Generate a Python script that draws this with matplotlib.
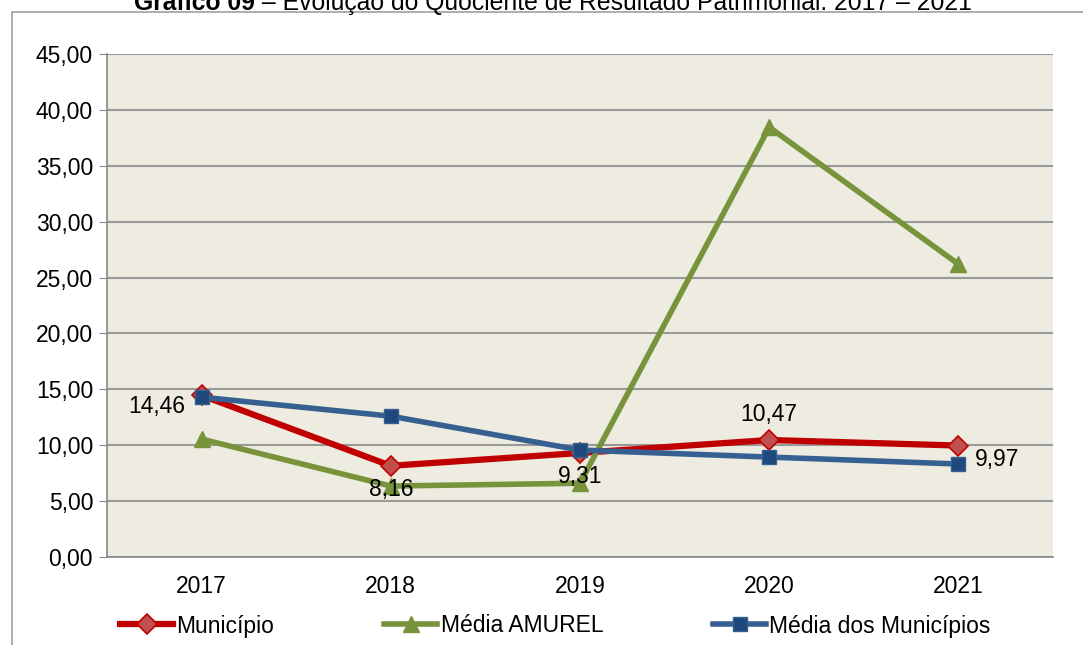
import matplotlib.pyplot as plt
from matplotlib.patches import Rectangle

anos = ['2017', '2018', '2019', '2020', '2021']
municipio = [14.46, 8.16, 9.31, 10.47, 9.97]
amurel = [10.55, 6.35, 6.6, 38.45, 26.2]
media_municipios = [14.3, 12.6, 9.57, 8.94, 8.32]

plt.rcParams['font.family'] = ['Liberation Sans', 'DejaVu Sans']
FS = 16.5

fig = plt.figure(figsize=(10.83, 6.45), dpi=100)
ax = fig.add_axes([0.0988, 0.1364, 0.8735, 0.7799])

# moldura do gráfico (cortada à direita)
fig.patches.append(Rectangle((12 / 1083, -0.1), 1.2, 1 - 12 / 645 + 0.1,
                             transform=fig.transFigure, fill=False,
                             edgecolor='#a0a0a0', linewidth=1.2))

# título cortado no topo: parte em negrito + resto
y_tit = 1 - 3 / 645
t1 = fig.text(0, y_tit, 'Gráfico 09', weight='bold', ha='left', va='center', fontsize=17.8)
t2 = fig.text(0, y_tit, ' – Evolução do Quociente de Resultado Patrimonial: 2017 – 2021',
              ha='left', va='center', fontsize=17.8)
fig.canvas.draw()
r = fig.canvas.get_renderer()
w1 = t1.get_window_extent(r).width / fig.bbox.width
w2 = t2.get_window_extent(r).width / fig.bbox.width
x0 = 553 / 1083 - (w1 + w2) / 2
t1.set_x(x0)
t2.set_x(x0 + w1)

ax.set_facecolor('#eeebe0')
x = range(len(anos))

ax.plot(x, municipio, color='#c00000', linewidth=4.5, marker='D', markersize=10,
        markerfacecolor='#c0504d', markeredgecolor='#c00000', markeredgewidth=1.2,
        label='Município', zorder=3)
ax.plot(x, amurel, color='#77933c', linewidth=4, marker='^', markersize=11,
        markerfacecolor='#77933c', markeredgecolor='#77933c',
        label='Média AMUREL', zorder=3)
ax.plot(x, media_municipios, color='#376092', linewidth=4, marker='s', markersize=10,
        markerfacecolor='#1f497d', markeredgecolor='#376092',
        label='Média dos Municípios', zorder=4)

# rótulos de dados do município
rotulos = [(-12, -8, 'right', 'center'), (0, -9, 'center', 'top'),
           (0, -9, 'center', 'top'), (0, 10, 'center', 'bottom'),
           (12, -10, 'left', 'center')]
for i, (dx, dy, ha, va) in enumerate(rotulos):
    ax.annotate(f'{municipio[i]:.2f}'.replace('.', ','), (i, municipio[i]),
                xytext=(dx, dy), textcoords='offset points', ha=ha, va=va,
                fontsize=FS, zorder=5)

ax.set_xlim(-0.5, 4.5)
ax.set_ylim(0, 45)
ax.set_yticks(range(0, 46, 5))
ax.set_yticklabels([f'{v:.2f}'.replace('.', ',') for v in range(0, 46, 5)], fontsize=FS)
ax.set_xticks(list(x))
ax.set_xticklabels(anos, fontsize=FS)
ax.tick_params(axis='x', length=0, pad=13)
ax.tick_params(axis='y', length=6, color='#888888', pad=4)
ax.grid(axis='y', color='#999999', linewidth=1.5, zorder=1)
ax.set_axisbelow(True)
for s in ['top', 'right']:
    ax.spines[s].set_visible(False)
for s in ['left', 'bottom']:
    ax.spines[s].set_color('#888888')
    ax.spines[s].set_linewidth(1.2)

fig.legend(loc='center', bbox_to_anchor=(0.513, 1 - 626 / 645), ncol=3,
           frameon=False, fontsize=FS, handlelength=2.3, columnspacing=4.8,
           handletextpad=0.15)

fig.savefig('out.png', dpi=100)
